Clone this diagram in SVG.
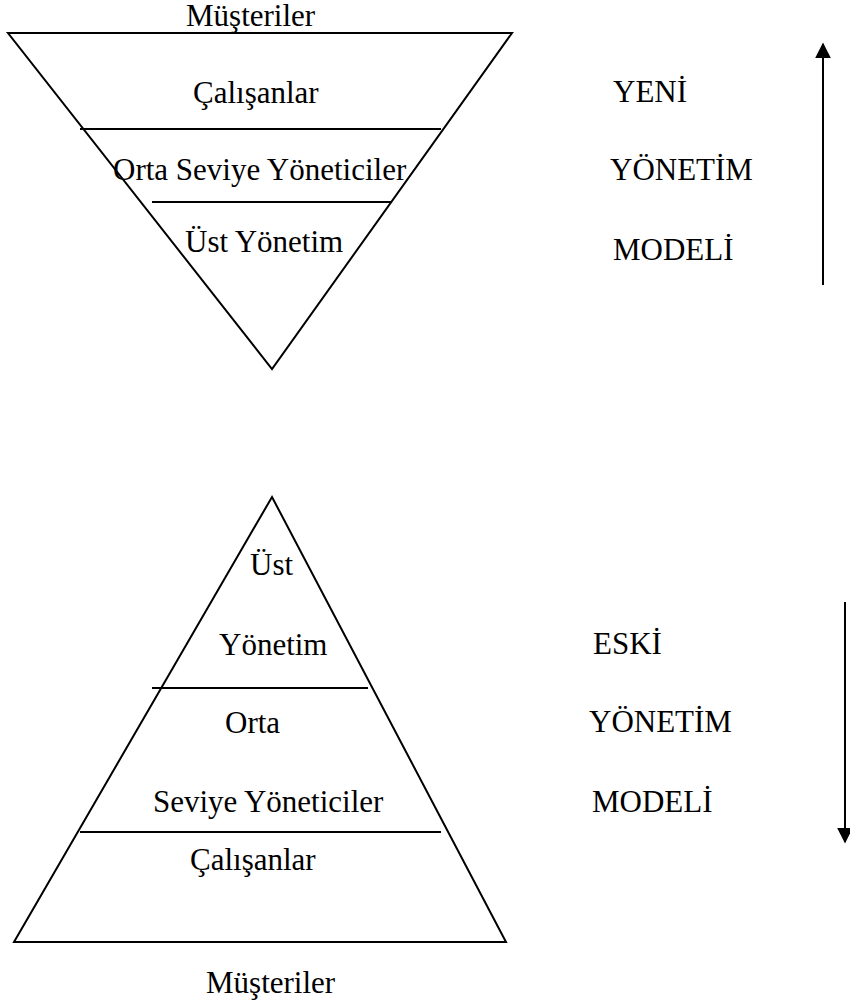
<svg xmlns="http://www.w3.org/2000/svg" width="850" height="1007" viewBox="0 0 850 1007">
  <style>
    .edge { fill: none; stroke: #000; stroke-width: 2; }
    .lbl { font-family: "Liberation Serif", "Times New Roman", serif; font-size: 31px; fill: #000; }
  </style>
  <defs>
    <marker id="head" viewBox="0 0 10 10" refX="9" refY="5" markerWidth="16" markerHeight="16" markerUnits="userSpaceOnUse" orient="auto">
      <path d="M0,0 L10,5 L0,10 Z" fill="#000"/>
    </marker>
  </defs>
  <rect width="850" height="1007" fill="#fff"/>

  <!-- inverted pyramid: new management model -->
  <g id="new-model">
    <text class="lbl" x="186" y="26">Müşteriler</text>
    <path class="edge" d="M8,33 L512,33 L272,369 Z"/>
    <line class="edge" x1="80" y1="129" x2="441" y2="129"/>
    <line class="edge" x1="152" y1="202" x2="391" y2="202"/>
    <text class="lbl" x="193" y="103">Çalışanlar</text>
    <text class="lbl" x="113" y="180">Orta Seviye Yöneticiler</text>
    <text class="lbl" x="185" y="252">Üst Yönetim</text>
  </g>
  <g id="new-label">
    <text class="lbl" x="613" y="102">YENİ</text>
    <text class="lbl" x="610" y="180">YÖNETİM</text>
    <text class="lbl" x="613" y="260">MODELİ</text>
  </g>

  <!-- upright pyramid: old management model -->
  <g id="old-model">
    <path class="edge" d="M272,497 L506,942 L14,942 Z"/>
    <line class="edge" x1="152" y1="688" x2="368" y2="688"/>
    <line class="edge" x1="80" y1="832" x2="441" y2="832"/>
    <text class="lbl" x="250" y="575">Üst</text>
    <text class="lbl" x="219" y="655">Yönetim</text>
    <text class="lbl" x="225" y="733">Orta</text>
    <text class="lbl" x="153" y="812">Seviye Yöneticiler</text>
    <text class="lbl" x="190" y="870">Çalışanlar</text>
    <text class="lbl" x="206" y="993">Müşteriler</text>
  </g>
  <g id="old-label">
    <text class="lbl" x="593" y="654">ESKİ</text>
    <text class="lbl" x="589" y="732">YÖNETİM</text>
    <text class="lbl" x="592" y="812">MODELİ</text>
  </g>

  <g id="connectors">
    <line class="edge" x1="823" y1="285" x2="823" y2="44" marker-end="url(#head)"/>
    <line class="edge" x1="845" y1="602" x2="845" y2="842" marker-end="url(#head)"/>
  </g>
</svg>
